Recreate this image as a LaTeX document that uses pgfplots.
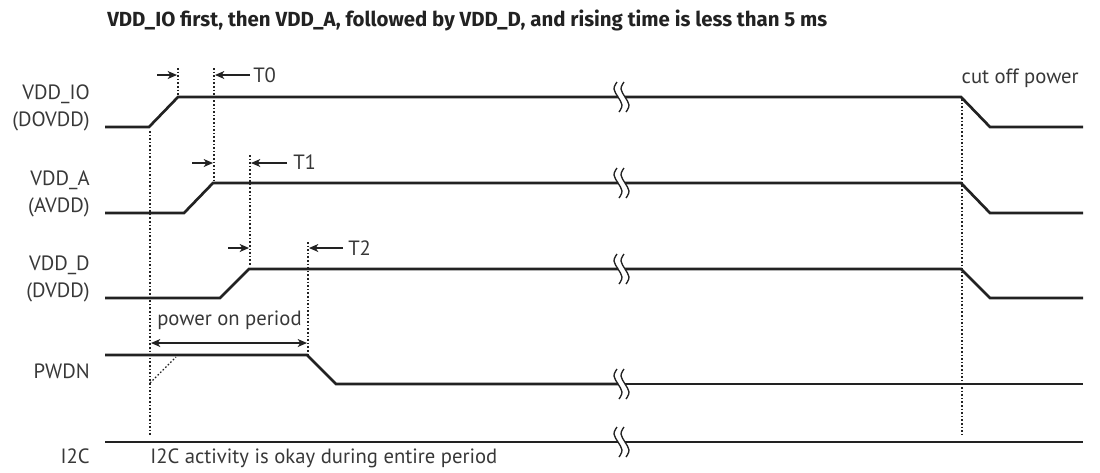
\documentclass[border=0pt]{standalone}
\usepackage{fontspec}
\setmainfont{PT Sans}
\newfontfamily\titlefont{Fira Sans}
\usepackage{pgfplots}
\pgfplotsset{compat=1.18}
\usetikzlibrary{arrows.meta}
\definecolor{sig}{HTML}{222222}
\definecolor{txt}{HTML}{383838}
\newcommand\lab{\fontsize{15.5}{18}\selectfont\color{txt}}
\begin{document}
\begin{tikzpicture}
\begin{axis}[
  x=0.75pt, y=0.75pt, y dir=reverse,
  xmin=0, xmax=1100, ymin=0, ymax=472,
  hide axis, clip=false, scale only axis,
]
\path (axis cs:0,0) rectangle (axis cs:1100,472);
% signals
\pgfplotsset{sigline/.style={color=sig, line width=2pt, line join=miter, mark=none}}
\addplot[sigline] coordinates {(105,127)(149,127)(178,97)(618,97)};
\addplot[sigline] coordinates {(625,97)(961,97)(990,127)(1083,127)};
\addplot[sigline] coordinates {(105,213)(184,213)(213,183)(618,183)};
\addplot[sigline] coordinates {(625,183)(961,183)(990,213)(1083,213)};
\addplot[sigline] coordinates {(105,298)(220,298)(249,269)(618,269)};
\addplot[sigline] coordinates {(625,269)(961,269)(990,298)(1083,298)};
\addplot[sigline] coordinates {(105,355)(307,355)(336,384)(618,384)};
\addplot[sigline] coordinates {(625,384)(1083,384)};
\addplot[sigline] coordinates {(105,442)(618,442)};
\addplot[sigline] coordinates {(625,442)(1083,442)};
% break marks
\pgfplotsset{brk/.style={color=sig, line width=1pt, smooth, mark=none, tension=0.7}}
\foreach \yy in {97,183,269,384,442}{
  \edef\tmp{\noexpand\addplot[brk] coordinates {(617,\yy-15)(614,\yy-8)(618,\yy)(622,\yy+8)(619,\yy+15)};
  \noexpand\addplot[brk] coordinates {(624,\yy-15)(621,\yy-8)(625,\yy)(629,\yy+8)(626,\yy+15)};}
  \tmp
}
% dotted guides
\pgfplotsset{dots/.style={color=sig, line width=0.9pt, dash pattern=on 1.2pt off 1.5pt, mark=none}}
\addplot[dots] coordinates {(150,131)(150,436)};
\addplot[dots] coordinates {(150,383)(176,357)};
\addplot[dots] coordinates {(178,68)(178,97)};
\addplot[dots] coordinates {(214,68)(214,180)};
\addplot[dots] coordinates {(250,155)(250,266)};
\addplot[dots] coordinates {(308,242)(308,355)};
\addplot[dots] coordinates {(962,99)(962,437)};
% arrows
\pgfplotsset{arr/.style={color=sig, line width=1pt, mark=none, -{Stealth[length=7pt,width=6pt,inset=2pt]}}}
\addplot[arr] coordinates {(157,75)(177,75)};
\addplot[arr] coordinates {(250,75)(215,75)};
\addplot[arr] coordinates {(192,163)(213,163)};
\addplot[arr] coordinates {(287,163)(251,163)};
\addplot[arr] coordinates {(228,248)(249,248)};
\addplot[arr] coordinates {(343,248)(309,248)};
\addplot[color=sig, line width=1pt, mark=none, {Stealth[length=7pt,width=6pt,inset=2pt]}-{Stealth[length=7pt,width=6pt,inset=2pt]}] coordinates {(151,343)(307,343)};
% texts
\node[anchor=base west, inner sep=0pt] at (axis cs:107,26) {\resizebox{540pt}{!}{\titlefont\bfseries\color{sig}VDD\_IO first, then VDD\_A, followed by VDD\_D, and rising time is less than 5 ms}};
\node[anchor=base west, inner sep=0pt] at (axis cs:253,82) {\lab T0};
\node[anchor=base west, inner sep=0pt] at (axis cs:293,169) {\lab T1};
\node[anchor=base west, inner sep=0pt] at (axis cs:348,255) {\lab T2};
\node[anchor=base east, inner sep=0pt] at (axis cs:1079,83) {\lab cut off power};
\node[anchor=base west, inner sep=0pt] at (axis cs:157,325) {\lab power on period};
\node[anchor=base west, inner sep=0pt] at (axis cs:150,463) {\lab I2C activity is okay during entire period};
\node[anchor=base east, inner sep=0pt] at (axis cs:90,99) {\lab VDD\_IO};
\node[anchor=base east, inner sep=0pt] at (axis cs:90,126) {\lab (DOVDD)};
\node[anchor=base east, inner sep=0pt] at (axis cs:90,185) {\lab VDD\_A};
\node[anchor=base east, inner sep=0pt] at (axis cs:90,212) {\lab (AVDD)};
\node[anchor=base east, inner sep=0pt] at (axis cs:90,270) {\lab VDD\_D};
\node[anchor=base east, inner sep=0pt] at (axis cs:90,297) {\lab (DVDD)};
\node[anchor=base east, inner sep=0pt] at (axis cs:90,378) {\lab PWDN};
\node[anchor=base east, inner sep=0pt] at (axis cs:90,463) {\lab I2C};
\end{axis}
\end{tikzpicture}
\end{document}
